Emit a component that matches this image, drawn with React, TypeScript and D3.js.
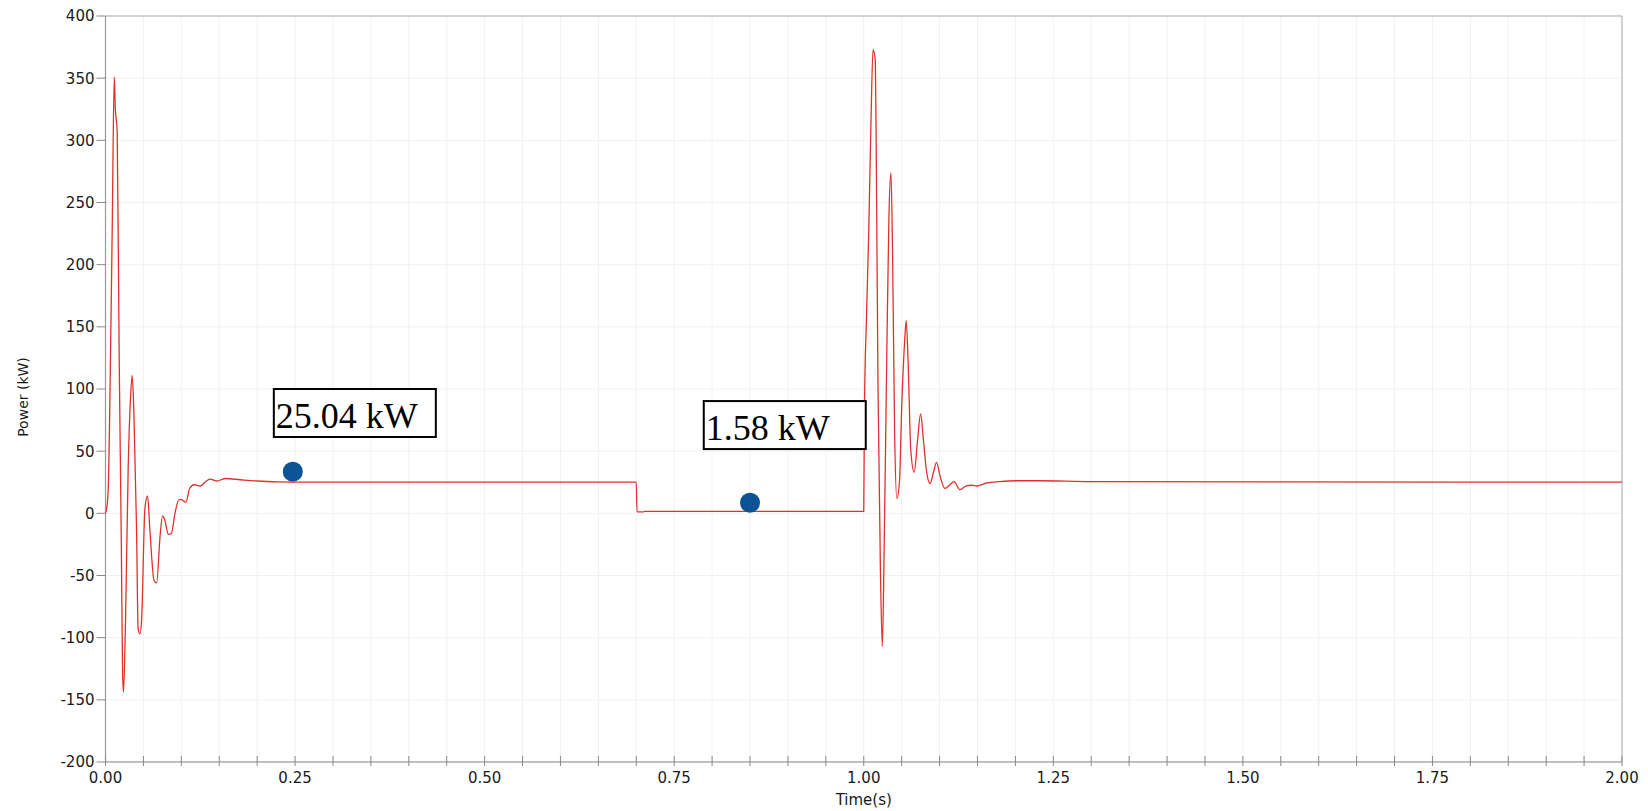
import React, { useEffect, useRef } from 'react';
import * as d3 from 'd3';

// time (s) and power (kW)
const timeS = [
  0, 0.001, 0.0035, 0.006, 0.009, 0.0115, 0.013, 0.0154, 0.018, 0.021, 0.0225, 0.0238,
  0.0264, 0.03, 0.033, 0.0352, 0.0374, 0.041, 0.043, 0.0454, 0.0476, 0.052, 0.0555,
  0.0586, 0.064, 0.0674, 0.072, 0.0753, 0.078, 0.083, 0.087, 0.0916, 0.097, 0.1, 0.106,
  0.111, 0.117, 0.125, 0.133, 0.138, 0.147, 0.158, 0.178, 0.2, 0.23, 0.26, 0.7, 0.701,
  0.71, 0.711, 1.0, 1.0009, 1.0035, 1.0066, 1.0096, 1.0122, 1.0153, 1.0166, 1.0188,
  1.0219, 1.0245, 1.027, 1.0306, 1.0332, 1.0359, 1.038, 1.0407, 1.0437, 1.0472, 1.05,
  1.0538, 1.056, 1.0586, 1.062, 1.0665, 1.071, 1.075, 1.0787, 1.083, 1.0875, 1.092,
  1.096, 1.1006, 1.107, 1.1137, 1.119, 1.127, 1.135, 1.142, 1.149, 1.162, 1.179, 1.201,
  1.232, 1.3, 2.0,
];

const powerKW = [
  0, 2, 18, 100, 236, 351, 325, 307, 128, -32, -128, -144,
  -86, 39, 93, 111, 82, -14, -93, -97, -86, 4, 14,
  -14, -54, -56, -18, -2, -5, -17, -16, 0, 11, 11, 9,
  20, 23, 22, 26, 27.5, 26, 28, 27, 26, 25.3, 25.04, 25.04, 1.2,
  1.2, 1.58, 1.58, 84, 155, 227, 317, 373, 364, 281, 102,
  -42, -107, -24, 137, 238, 274, 209, 66, 12, 26, 84,
  137, 155, 120, 51, 33, 59, 80, 59, 33, 24, 33,
  41, 30, 20, 23, 25.5, 19, 22, 22.6, 22, 24.4, 25.5, 26.2,
  26.2, 25.5, 25.04,
];

const yTicks = d3.range(-200, 401, 50);
const xMinorTicks = d3.range(0, 2.0001, 0.05);
const xLabelTicks = [0, 0.25, 0.5, 0.75, 1.0, 1.25, 1.5, 1.75, 2.0];

const noteLabels = ['25.04 kW', '1.58 kW'];
const noteBoxT = [0.222, 0.789];
const noteBoxV = [100, 90.3];
const noteDotT = [0.247, 0.85];
const noteDotV = [33.5, 8.6];

const App = () => {
  const svgRef = useRef<SVGSVGElement>(null);

  useEffect(() => {
    const width = 1648;
    const height = 811;
    const margin = { top: 16, right: 26, bottom: 49, left: 105.5 };
    const w = width - margin.left - margin.right;
    const h = height - margin.top - margin.bottom;

    const svg = d3.select(svgRef.current);
    svg.selectAll('*').remove();

    const x = d3.scaleLinear().domain([0, 2]).range([0, w]);
    const y = d3.scaleLinear().domain([-200, 400]).range([h, 0]);

    const g = svg.append('g').attr('transform', `translate(${margin.left},${margin.top})`);

    // grid
    g.selectAll('.vgrid')
      .data(xMinorTicks)
      .enter()
      .append('line')
      .attr('x1', d => x(d))
      .attr('x2', d => x(d))
      .attr('y1', 0)
      .attr('y2', h)
      .attr('stroke', '#f1f1f1')
      .attr('stroke-width', 1);

    g.selectAll('.hgrid')
      .data(yTicks)
      .enter()
      .append('line')
      .attr('x1', 0)
      .attr('x2', w)
      .attr('y1', d => y(d))
      .attr('y2', d => y(d))
      .attr('stroke', '#f1f1f1')
      .attr('stroke-width', 1);

    // frame
    g.append('line').attr('x1', 0).attr('x2', w).attr('y1', 0).attr('y2', 0)
      .attr('stroke', '#aaa').attr('stroke-width', 1.2);
    g.append('line').attr('x1', w).attr('x2', w).attr('y1', 0).attr('y2', h)
      .attr('stroke', '#bbb').attr('stroke-width', 1.2);
    g.append('line').attr('x1', 0).attr('x2', 0).attr('y1', 0).attr('y2', h)
      .attr('stroke', '#999').attr('stroke-width', 1.2);
    g.append('line').attr('x1', 0).attr('x2', w).attr('y1', h).attr('y2', h)
      .attr('stroke', '#888').attr('stroke-width', 1.2);

    // y ticks
    g.selectAll('.ytick')
      .data(yTicks)
      .enter()
      .append('line')
      .attr('x1', -9)
      .attr('x2', 0)
      .attr('y1', d => y(d))
      .attr('y2', d => y(d))
      .attr('stroke', '#888');

    g.selectAll('.ylabel')
      .data(yTicks)
      .enter()
      .append('text')
      .attr('x', -11)
      .attr('y', d => y(d))
      .attr('dy', '0.36em')
      .attr('text-anchor', 'end')
      .attr('font-family', 'DejaVu Sans, sans-serif')
      .attr('font-size', 15)
      .attr('fill', '#1a1a1a')
      .text(d => d);

    // x ticks
    g.selectAll('.xtick')
      .data(xMinorTicks)
      .enter()
      .append('line')
      .attr('x1', d => x(d))
      .attr('x2', d => x(d))
      .attr('y1', h - 6)
      .attr('y2', h + 4)
      .attr('stroke', '#888');

    g.selectAll('.xlabel')
      .data(xLabelTicks)
      .enter()
      .append('text')
      .attr('x', d => x(d))
      .attr('y', h + 21)
      .attr('text-anchor', 'middle')
      .attr('font-family', 'DejaVu Sans, sans-serif')
      .attr('font-size', 15)
      .attr('fill', '#1a1a1a')
      .text(d => d3.format('.2f')(d));

    // axis titles
    svg.append('text')
      .attr('x', margin.left + w / 2)
      .attr('y', 805)
      .attr('text-anchor', 'middle')
      .attr('font-family', 'DejaVu Sans, sans-serif')
      .attr('font-size', 15)
      .attr('fill', '#1a1a1a')
      .text('Time(s)');

    svg.append('text')
      .attr('transform', `translate(28,${margin.top + h / 2 + 8}) rotate(-90)`)
      .attr('text-anchor', 'middle')
      .attr('font-family', 'DejaVu Sans, sans-serif')
      .attr('font-size', 14)
      .attr('fill', '#1a1a1a')
      .text('Power (kW)');

    // series
    const pts = timeS.map((t, i) => [t, powerKW[i]] as [number, number]);
    const line = d3.line<[number, number]>()
      .x(d => x(d[0]))
      .y(d => y(d[1]))
      .curve(d3.curveMonotoneX);

    g.append('path')
      .datum(pts)
      .attr('d', line)
      .attr('fill', 'none')
      .attr('stroke', '#e0312f')
      .attr('stroke-width', 1.3)
      .attr('stroke-linejoin', 'round');

    // annotations
    noteLabels.forEach((label, i) => {
      const bx = x(noteBoxT[i]);
      const by = y(noteBoxV[i]);
      g.append('rect')
        .attr('x', bx)
        .attr('y', by)
        .attr('width', 162)
        .attr('height', 48)
        .attr('fill', '#fff')
        .attr('stroke', '#000')
        .attr('stroke-width', 2);
      g.append('text')
        .attr('x', bx + 2)
        .attr('y', by + 39)
        .attr('font-family', 'Liberation Serif, Times New Roman, serif')
        .attr('font-size', 36)
        .attr('fill', '#000')
        .text(label);
      g.append('circle')
        .attr('cx', x(noteDotT[i]))
        .attr('cy', y(noteDotV[i]))
        .attr('r', 10)
        .attr('fill', '#0b5394');
    });
  }, []);

  return (
    <svg
      ref={svgRef}
      width={1648}
      height={811}
      style={{ position: 'absolute', left: 0, top: 0, background: '#fff' }}
    ></svg>
  );
};

export default App;
